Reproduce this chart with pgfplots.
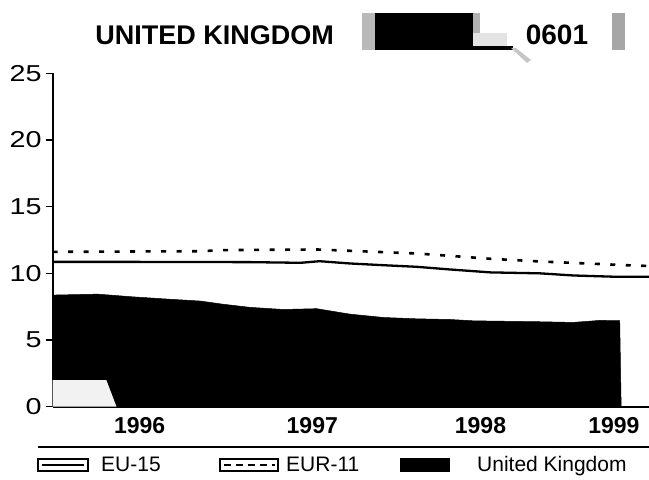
\documentclass[border=0pt]{standalone}
\usepackage{fontspec}
\setmainfont{Liberation Sans}
\newfontfamily\tickfont{Liberation Sans}[FakeStretch=1.25]
\usepackage{pgfplots}
\pgfplotsset{compat=1.18}

\begin{document}
\begin{tikzpicture}[x=1pt,y=1pt]
\path[use as bounding box] (0,0) rectangle (649,480);

% title band (scanned header)
\node[anchor=east, inner sep=0pt, font=\bfseries\fontsize{27}{27}\selectfont] at (334,445) {UNITED KINGDOM};
\fill[gray!55] (362,430) rectangle (376,467);
\fill[gray!22] (472,433) rectangle (507,447);
\fill[gray!60] (472,447) rectangle (480,467);
\fill[black] (375,430) rectangle (473,467);
\fill[black] (473,430) rectangle (513,434);
\fill[gray!45] (511,432) -- (527,417) -- (531,420) -- (516,432) -- cycle;
\node[font=\bfseries\fontsize{28}{28}\selectfont] at (557,445) {0601};
\fill[gray!70] (612,430) rectangle (625,467);

\begin{axis}[
    at={(52.7pt,73.3pt)}, anchor=south west,
    scale only axis,
    width=596.3pt, height=333.4pt,
    xmin=0, xmax=41.12,
    ymin=0, ymax=25,
    axis x line*=bottom, axis y line*=left,
    axis line style={-, line width=1.8pt},
    ytick={0,5,10,15,20,25},
    ytick align=outside,
    major tick length=7pt,
    y tick style={line width=1.5pt, black},
    yticklabel style={/pgf/number format/assume math mode=true,
        font=\tickfont\fontsize{23}{23}\selectfont, inner sep=0pt, xshift=-4pt},
    xtick={6.0,17.9,29.5,38.7},
    xticklabels={1996,1997,1998,1999},
    x tick style={draw=none},
    xticklabel style={font=\bfseries\fontsize{23}{23}\selectfont,
        anchor=north, inner sep=0pt, yshift=-11pt},
    clip=true,
]
% United Kingdom
\addplot[fill=black, draw=black, line width=0.5pt] coordinates {
    (0,8.37) (3.1,8.44) (5.5,8.24) (7.9,8.07) (10.2,7.92) (11.7,7.69)
    (13.6,7.45) (15.9,7.29) (18.2,7.35) (20.5,6.94) (22.8,6.69) (25.1,6.59)
    (27.4,6.54) (29.0,6.44) (33.6,6.37) (35.9,6.32) (37.7,6.47) (39.1,6.45)
    (39.2,0)
} \closedcycle;
% faded corner of the scan
\addplot[fill=gray!10, draw=none] coordinates {
    (0,2) (3.7,2) (4.4,0)
} \closedcycle;
% EU-15
\addplot[black, line width=2.3pt] coordinates {
    (0,10.86) (5.1,10.86) (13.6,10.84) (17.1,10.79) (18.4,10.91) (20.5,10.74)
    (22.8,10.61) (25.1,10.49) (27.4,10.29) (30.2,10.07) (33.6,10.0)
    (35.9,9.84) (38.9,9.74) (41.2,9.74)
};
% EUR-11
\addplot[black, line width=2.6pt, dash pattern=on 5pt off 10.5pt] coordinates {
    (0,11.61) (10.2,11.66) (11.7,11.74) (18.2,11.79) (20.5,11.69)
    (22.8,11.59) (25.1,11.49) (27.4,11.31) (30.2,11.09) (33.6,10.89)
    (36.8,10.74) (40.0,10.59) (41.2,10.55)
};
\end{axis}

% rule and legend
\draw[line width=1.5pt] (38,33) -- (649,33);
\draw[line width=1.3pt] (38,9) rectangle (88,21);
\draw[line width=2pt] (42,15) -- (84,15);
\node[anchor=base west, inner sep=0pt, font=\fontsize{21}{21}\selectfont] at (101,8) {EU-15};
\draw[line width=1.3pt] (220,9) rectangle (278,21);
\draw[line width=2pt, dash pattern=on 7pt off 5pt] (224,15) -- (275,15);
\node[anchor=base west, inner sep=0pt, font=\fontsize{21}{21}\selectfont] at (286,8) {EUR-11};
\fill[black] (400,8) rectangle (450,22);
\node[anchor=base west, inner sep=0pt, font=\fontsize{21}{21}\selectfont] at (477,8) {United Kingdom};
\end{tikzpicture}
\end{document}
